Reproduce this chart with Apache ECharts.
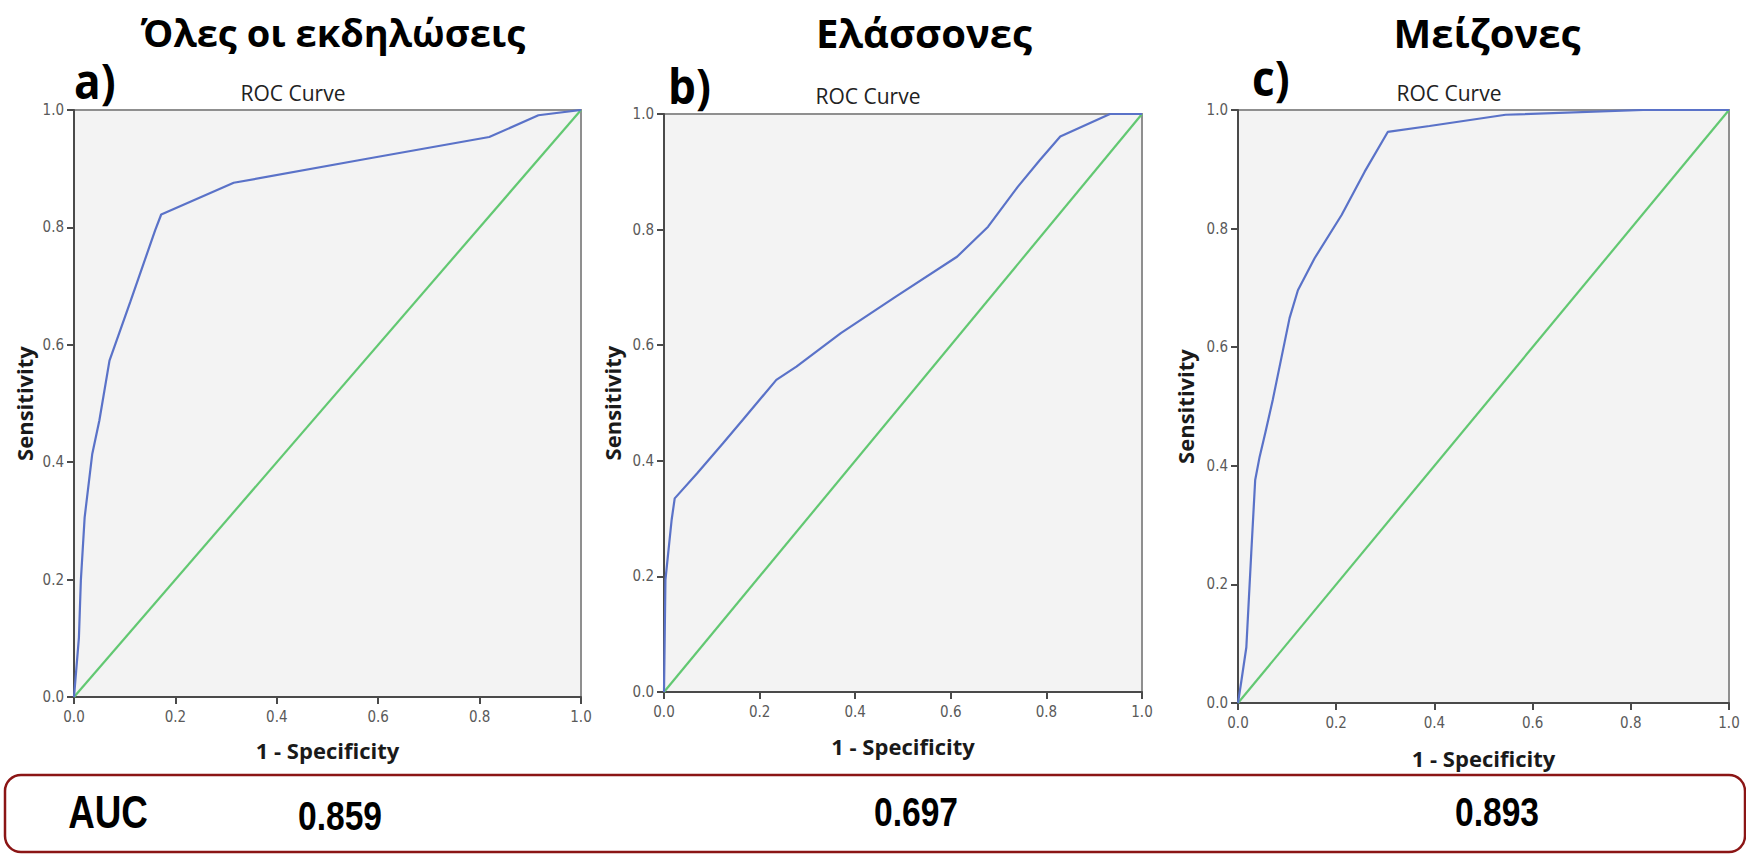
<!DOCTYPE html>
<html>
<head>
<meta charset="utf-8">
<title>ROC Curves</title>
<script src="https://cdn.jsdelivr.net/npm/echarts@6/dist/echarts.min.js"></script>
<style>
  html, body { margin: 0; padding: 0; background: #fff; }
  #main { width: 1746px; height: 854px; }
</style>
</head>
<body>
<div id="main"></div>
<script>
// panel titles and AUC values
var panelTitles = ['Όλες οι εκδηλώσεις', 'Ελάσσονες', 'Μείζονες'];
var panelLetters = ['a)', 'b)', 'c)'];
var aucValues = ['0.859', '0.697', '0.893'];

// a) all events: 1 - specificity / sensitivity
var fprA = [0, 0.0097, 0.0135, 0.021, 0.036, 0.050, 0.070, 0.111, 0.160, 0.172, 0.315, 0.578, 0.819, 0.916, 1];
var tprA = [0, 0.101, 0.198, 0.306, 0.414, 0.471, 0.573, 0.673, 0.795, 0.822, 0.876, 0.917, 0.954, 0.991, 1];

// b) minor
var fprB = [0, 0.003, 0.016, 0.0224, 0.069, 0.123, 0.165, 0.235, 0.277, 0.370, 0.485, 0.613, 0.678, 0.740, 0.786, 0.829, 0.933, 1];
var tprB = [0, 0.194, 0.298, 0.335, 0.378, 0.430, 0.471, 0.540, 0.563, 0.621, 0.684, 0.753, 0.805, 0.874, 0.920, 0.961, 1, 1];

// c) major
var fprC = [0, 0.007, 0.017, 0.027, 0.035, 0.044, 0.056, 0.071, 0.105, 0.122, 0.156, 0.211, 0.258, 0.305, 0.390, 0.545, 0.825, 1];
var tprC = [0, 0.038, 0.094, 0.253, 0.376, 0.415, 0.457, 0.512, 0.649, 0.696, 0.750, 0.823, 0.896, 0.963, 0.973, 0.992, 1, 1];

// reference diagonal
var diagX = [0, 1];
var diagY = [0, 1];

var chart = echarts.init(document.getElementById('main'), null, { renderer: 'svg' });

function pairs(xs, ys) {
  return xs.map(function (x, i) { return [x, ys[i]]; });
}

var grids = [
  { left: 74, top: 110, width: 507, height: 587 },
  { left: 664, top: 114, width: 478, height: 578 },
  { left: 1238, top: 110, width: 491, height: 593 }
];
var yNameGap = [39, 41, 42];
var xNameGap = [42, 43, 44];
var curves = [pairs(fprA, tprA), pairs(fprB, tprB), pairs(fprC, tprC)];

var labelFont = '"DejaVu Sans Condensed", sans-serif';
var boldNarrow = '"Liberation Sans", Arial, sans-serif';

function axisBase(i) {
  return {
    gridIndex: i,
    type: 'value',
    min: 0,
    max: 1,
    interval: 0.2,
    splitLine: { show: false },
    axisLine: { show: true, onZero: false, lineStyle: { color: '#4a4a4a', width: 2 } },
    axisTick: { show: true, inside: false, length: 7, lineStyle: { color: '#4a4a4a', width: 2 } },
    axisLabel: {
      color: '#5a5a5a',
      fontSize: 15,
      fontFamily: labelFont,
      showMinLabel: true,
      showMaxLabel: true,
      formatter: function (v) { return v.toFixed(1); }
    },
    nameLocation: 'middle',
    nameTextStyle: {
      color: '#1a1a1a',
      fontSize: 22,
      fontWeight: 'bold',
      fontFamily: '"Open Sans", sans-serif'
    }
  };
}

var xAxes = [], yAxes = [], series = [], graphics = [];
for (var i = 0; i < 3; i++) {
  var xa = axisBase(i);
  xa.name = '1 - Specificity';
  xa.nameGap = xNameGap[i];
  xa.axisLabel.margin = 12;
  xAxes.push(xa);

  var ya = axisBase(i);
  ya.name = 'Sensitivity';
  ya.nameGap = yNameGap[i];
  ya.axisLabel.margin = 10;
  yAxes.push(ya);

  series.push({
    type: 'line',
    xAxisIndex: i,
    yAxisIndex: i,
    data: pairs(diagX, diagY),
    showSymbol: false,
    lineStyle: { color: '#62c872', width: 2.2 },
    silent: true
  });
  series.push({
    type: 'line',
    xAxisIndex: i,
    yAxisIndex: i,
    data: curves[i],
    showSymbol: false,
    lineStyle: { color: '#5a72c8', width: 2.2 },
    silent: true
  });
}

grids.forEach(function (g) {
  g.show = true;
  g.backgroundColor = '#f3f3f3';
  g.borderColor = '#8f8f8f';
  g.borderWidth = 2;
});

// headings above the panels
var titleX = [333, 924, 1487];
var titleSize = [38, 40, 40];
var letterX = [74, 668, 1252];
var letterY = [81, 86, 78];
var rocX = [293, 868, 1449];
var rocY = [93, 96, 93];
var aucX = [340, 916, 1497];
var aucY = [816, 812, 812];

for (var k = 0; k < 3; k++) {
  graphics.push({
    type: 'text', x: titleX[k], y: 32,
    style: { text: panelTitles[k], fill: '#000', font: 'bold ' + titleSize[k] + 'px "Open Sans", sans-serif',
      textAlign: 'center', textVerticalAlign: 'middle' }
  });
  graphics.push({
    type: 'text', x: letterX[k], y: letterY[k], scaleX: 0.92,
    style: { text: panelLetters[k], fill: '#000', font: 'bold 48px "Open Sans", sans-serif',
      textAlign: 'left', textVerticalAlign: 'middle' }
  });
  graphics.push({
    type: 'text', x: rocX[k], y: rocY[k],
    style: { text: 'ROC Curve', fill: '#222', font: '21px "Open Sans", sans-serif',
      textAlign: 'center', textVerticalAlign: 'middle' }
  });
  graphics.push({
    type: 'text', x: aucX[k], y: aucY[k], scaleX: 0.82,
    style: { text: aucValues[k], fill: '#000', font: 'bold 41px ' + boldNarrow,
      textAlign: 'center', textVerticalAlign: 'middle' }
  });
}

// AUC box
graphics.push({
  type: 'rect',
  shape: { x: 5, y: 775, width: 1740, height: 77, r: 16 },
  style: { fill: 'none', stroke: '#8b1515', lineWidth: 2.5 }
});
graphics.push({
  type: 'text', x: 108, y: 812, scaleX: 0.8,
  style: { text: 'AUC', fill: '#000', font: 'bold 46px ' + boldNarrow,
    textAlign: 'center', textVerticalAlign: 'middle' }
});

chart.setOption({
  animation: false,
  grid: grids,
  xAxis: xAxes,
  yAxis: yAxes,
  series: series,
  graphic: graphics
});
</script>
</body>
</html>
